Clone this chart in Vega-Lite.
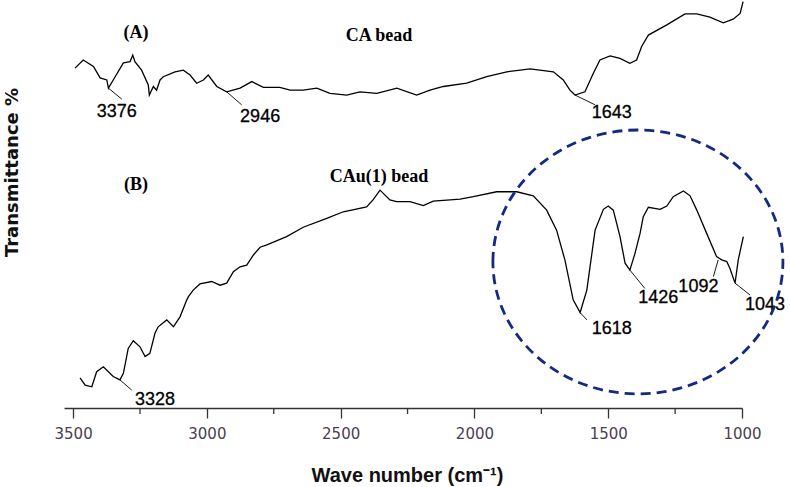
{
  "$schema": "https://vega.github.io/schema/vega-lite/v6.json",
  "width": 678,
  "height": 408,
  "autosize": "none",
  "padding": {"left": 64, "top": 0, "right": 48, "bottom": 79},
  "background": "white",
  "config": {"view": {"stroke": null}},
  "datasets": {
    "spectra": [
      {"wn": 3493, "t": 83.3, "s": "A"}, {"wn": 3462, "t": 85.3, "s": "A"}, {"wn": 3424, "t": 83.7, "s": "A"}, {"wn": 3399, "t": 80.9, "s": "A"},
      {"wn": 3374, "t": 80.4, "s": "A"}, {"wn": 3368, "t": 78.4, "s": "A"}, {"wn": 3350, "t": 80.4, "s": "A"}, {"wn": 3312, "t": 84.6, "s": "A"},
      {"wn": 3287, "t": 84.9, "s": "A"}, {"wn": 3277, "t": 86.5, "s": "A"}, {"wn": 3269, "t": 84.9, "s": "A"}, {"wn": 3244, "t": 82.8, "s": "A"},
      {"wn": 3219, "t": 79.2, "s": "A"}, {"wn": 3215, "t": 76.7, "s": "A"}, {"wn": 3200, "t": 78.8, "s": "A"}, {"wn": 3188, "t": 77.9, "s": "A"},
      {"wn": 3175, "t": 80.4, "s": "A"}, {"wn": 3163, "t": 81.2, "s": "A"}, {"wn": 3119, "t": 82.4, "s": "A"}, {"wn": 3088, "t": 82.8, "s": "A"},
      {"wn": 3063, "t": 81.6, "s": "A"}, {"wn": 3038, "t": 79.6, "s": "A"}, {"wn": 3013, "t": 80.4, "s": "A"}, {"wn": 2995, "t": 81.6, "s": "A"},
      {"wn": 2963, "t": 78.8, "s": "A"}, {"wn": 2926, "t": 77.5, "s": "A"}, {"wn": 2876, "t": 78.4, "s": "A"}, {"wn": 2832, "t": 80.0, "s": "A"},
      {"wn": 2789, "t": 78.6, "s": "A"}, {"wn": 2727, "t": 78.6, "s": "A"}, {"wn": 2689, "t": 77.9, "s": "A"}, {"wn": 2640, "t": 77.9, "s": "A"},
      {"wn": 2589, "t": 78.4, "s": "A"}, {"wn": 2540, "t": 77.1, "s": "A"}, {"wn": 2477, "t": 76.7, "s": "A"}, {"wn": 2428, "t": 77.5, "s": "A"},
      {"wn": 2365, "t": 77.1, "s": "A"}, {"wn": 2290, "t": 78.4, "s": "A"}, {"wn": 2216, "t": 76.7, "s": "A"}, {"wn": 2166, "t": 77.9, "s": "A"},
      {"wn": 2116, "t": 78.8, "s": "A"}, {"wn": 2029, "t": 79.6, "s": "A"}, {"wn": 1954, "t": 81.2, "s": "A"}, {"wn": 1879, "t": 82.4, "s": "A"},
      {"wn": 1792, "t": 83.1, "s": "A"}, {"wn": 1705, "t": 82.4, "s": "A"}, {"wn": 1668, "t": 80.4, "s": "A"}, {"wn": 1643, "t": 77.9, "s": "A"},
      {"wn": 1624, "t": 76.7, "s": "A"}, {"wn": 1587, "t": 77.5, "s": "A"}, {"wn": 1556, "t": 82.0, "s": "A"}, {"wn": 1531, "t": 85.3, "s": "A"},
      {"wn": 1493, "t": 86.3, "s": "A"}, {"wn": 1456, "t": 85.7, "s": "A"}, {"wn": 1419, "t": 84.5, "s": "A"}, {"wn": 1394, "t": 85.3, "s": "A"},
      {"wn": 1375, "t": 88.6, "s": "A"}, {"wn": 1350, "t": 91.4, "s": "A"}, {"wn": 1281, "t": 93.9, "s": "A"}, {"wn": 1213, "t": 96.6, "s": "A"},
      {"wn": 1169, "t": 96.6, "s": "A"}, {"wn": 1120, "t": 95.8, "s": "A"}, {"wn": 1070, "t": 94.4, "s": "A"}, {"wn": 1033, "t": 95.3, "s": "A"},
      {"wn": 1007, "t": 96.7, "s": "A"}, {"wn": 996, "t": 99.6, "s": "A"},

      {"wn": 3474, "t": 7.4, "s": "B"}, {"wn": 3455, "t": 5.6, "s": "B"}, {"wn": 3430, "t": 5.2, "s": "B"}, {"wn": 3412, "t": 8.9, "s": "B"},
      {"wn": 3387, "t": 10.1, "s": "B"}, {"wn": 3350, "t": 7.7, "s": "B"}, {"wn": 3325, "t": 6.9, "s": "B"}, {"wn": 3312, "t": 8.5, "s": "B"},
      {"wn": 3294, "t": 14.6, "s": "B"}, {"wn": 3275, "t": 16.5, "s": "B"}, {"wn": 3250, "t": 15.0, "s": "B"}, {"wn": 3231, "t": 12.6, "s": "B"},
      {"wn": 3213, "t": 13.4, "s": "B"}, {"wn": 3194, "t": 18.3, "s": "B"}, {"wn": 3182, "t": 19.9, "s": "B"}, {"wn": 3150, "t": 21.6, "s": "B"},
      {"wn": 3125, "t": 19.9, "s": "B"}, {"wn": 3100, "t": 22.4, "s": "B"}, {"wn": 3075, "t": 26.5, "s": "B"}, {"wn": 3069, "t": 27.3, "s": "B"},
      {"wn": 3051, "t": 28.9, "s": "B"}, {"wn": 3026, "t": 30.4, "s": "B"}, {"wn": 2982, "t": 31.0, "s": "B"}, {"wn": 2951, "t": 30.1, "s": "B"},
      {"wn": 2926, "t": 30.6, "s": "B"}, {"wn": 2901, "t": 33.4, "s": "B"}, {"wn": 2876, "t": 34.6, "s": "B"}, {"wn": 2851, "t": 35.0, "s": "B"},
      {"wn": 2826, "t": 37.5, "s": "B"}, {"wn": 2801, "t": 39.4, "s": "B"}, {"wn": 2776, "t": 40.0, "s": "B"}, {"wn": 2702, "t": 42.0, "s": "B"},
      {"wn": 2640, "t": 44.3, "s": "B"}, {"wn": 2552, "t": 46.5, "s": "B"}, {"wn": 2490, "t": 48.1, "s": "B"}, {"wn": 2403, "t": 49.3, "s": "B"},
      {"wn": 2379, "t": 51.0, "s": "B"}, {"wn": 2353, "t": 53.4, "s": "B"}, {"wn": 2316, "t": 51.0, "s": "B"}, {"wn": 2291, "t": 50.6, "s": "B"},
      {"wn": 2241, "t": 50.6, "s": "B"}, {"wn": 2191, "t": 49.6, "s": "B"}, {"wn": 2154, "t": 50.7, "s": "B"}, {"wn": 2091, "t": 51.0, "s": "B"},
      {"wn": 2054, "t": 51.2, "s": "B"}, {"wn": 2004, "t": 51.8, "s": "B"}, {"wn": 1917, "t": 53.0, "s": "B"}, {"wn": 1842, "t": 53.0, "s": "B"},
      {"wn": 1780, "t": 52.0, "s": "B"}, {"wn": 1730, "t": 48.5, "s": "B"}, {"wn": 1693, "t": 43.6, "s": "B"}, {"wn": 1662, "t": 36.3, "s": "B"},
      {"wn": 1631, "t": 26.5, "s": "B"}, {"wn": 1605, "t": 23.4, "s": "B"}, {"wn": 1580, "t": 28.9, "s": "B"}, {"wn": 1549, "t": 43.6, "s": "B"},
      {"wn": 1518, "t": 48.7, "s": "B"}, {"wn": 1500, "t": 49.5, "s": "B"}, {"wn": 1481, "t": 48.5, "s": "B"}, {"wn": 1456, "t": 42.0, "s": "B"},
      {"wn": 1437, "t": 35.5, "s": "B"}, {"wn": 1419, "t": 33.8, "s": "B"}, {"wn": 1400, "t": 37.9, "s": "B"}, {"wn": 1381, "t": 42.8, "s": "B"},
      {"wn": 1369, "t": 46.9, "s": "B"}, {"wn": 1350, "t": 49.2, "s": "B"}, {"wn": 1306, "t": 48.7, "s": "B"}, {"wn": 1281, "t": 49.5, "s": "B"},
      {"wn": 1257, "t": 51.8, "s": "B"}, {"wn": 1219, "t": 53.2, "s": "B"}, {"wn": 1194, "t": 52.0, "s": "B"}, {"wn": 1169, "t": 48.5, "s": "B"},
      {"wn": 1132, "t": 42.8, "s": "B"}, {"wn": 1095, "t": 37.1, "s": "B"}, {"wn": 1076, "t": 36.3, "s": "B"}, {"wn": 1057, "t": 35.9, "s": "B"},
      {"wn": 1045, "t": 34.2, "s": "B"}, {"wn": 1026, "t": 30.6, "s": "B"}, {"wn": 1014, "t": 36.3, "s": "B"}, {"wn": 995, "t": 42.0, "s": "B"}
    ],
    "leaders": [
      {"x1": 3368, "x2": 3318, "y1": 78.4, "y2": 75.7},
      {"x1": 2926, "x2": 2870, "y1": 77.5, "y2": 74.3},
      {"x1": 1624, "x2": 1549, "y1": 76.7, "y2": 74.3},
      {"x1": 3325, "x2": 3281, "y1": 6.9, "y2": 4.4},
      {"x1": 1605, "x2": 1580, "y1": 23.4, "y2": 21.6},
      {"x1": 1419, "x2": 1363, "y1": 33.8, "y2": 29.3},
      {"x1": 1089, "x2": 1107, "y1": 36.3, "y2": 32.2},
      {"x1": 1026, "x2": 970, "y1": 30.6, "y2": 27.7}
    ],
    "peaks": [
      {"x": 3337, "y": 72.6, "label": "3376"},
      {"x": 2801, "y": 71.4, "label": "2946"},
      {"x": 1487, "y": 72.2, "label": "1643"},
      {"x": 3194, "y": 2.0, "label": "3328"},
      {"x": 1487, "y": 19.3, "label": "1618"},
      {"x": 1313, "y": 26.9, "label": "1426"},
      {"x": 1163, "y": 29.7, "label": "1092"},
      {"x": 914, "y": 25.2, "label": "1043"}
    ],
    "titles": [
      {"x": 3265, "y": 91.9, "label": "(A)"},
      {"x": 2357, "y": 91.2, "label": "CA bead"},
      {"x": 3265, "y": 54.7, "label": "(B)"},
      {"x": 2357, "y": 56.7, "label": "CAu(1) bead"}
    ],
    "circle": [{"x": 1389, "y": 35.8}],
    "minor": [
      {"x": 3250, "y1": 0, "y2": -1.47},
      {"x": 2750, "y1": 0, "y2": -1.47},
      {"x": 2250, "y1": 0, "y2": -1.47},
      {"x": 1750, "y1": 0, "y2": -1.47},
      {"x": 1250, "y1": 0, "y2": -1.47}
    ]
  },
  "layer": [
    {
      "data": {"name": "spectra"},
      "mark": {"type": "line", "color": "#000000", "strokeWidth": 1.3},
      "encoding": {
        "x": {
          "field": "wn", "type": "quantitative",
          "scale": {"domain": [3534, 1000], "nice": false, "zero": false},
          "axis": {
            "values": [3500, 3000, 2500, 2000, 1500, 1000],
            "format": "d",
            "grid": false,
            "domainColor": "#333333", "domainWidth": 1.3,
            "tickColor": "#333333", "tickSize": 10, "tickWidth": 1.3,
            "labelFont": "DejaVu Sans", "labelFontSize": 15, "labelColor": "#4a4050",
            "labelPadding": 8, "labelFlush": false,
            "title": "Wave number (cm\u207b\u00b9)",
            "titleFont": "Liberation Sans", "titleFontSize": 20, "titleFontWeight": "bold", "titleColor": "#111111",
            "titleX": 343, "titleY": 73, "titleBaseline": "alphabetic", "titleAlign": "center"
          }
        },
        "y": {
          "field": "t", "type": "quantitative",
          "scale": {"domain": [0, 100], "nice": false, "zero": false},
          "axis": {
            "domain": false, "ticks": false, "labels": false, "grid": false,
            "title": "Transmittance %",
            "titleFont": "DejaVu Sans", "titleFontSize": 18, "titleFontWeight": "bold", "titleColor": "#111111",
            "titleX": -52, "titleY": 172, "titleAngle": -90, "titleBaseline": "middle", "titleAlign": "center"
          }
        },
        "detail": {"field": "s", "type": "nominal"}
      }
    },
    {
      "data": {"name": "minor"},
      "mark": {"type": "rule", "color": "#333333", "strokeWidth": 1.3},
      "encoding": {
        "x": {"field": "x", "type": "quantitative"},
        "y": {"field": "y1", "type": "quantitative"},
        "y2": {"field": "y2"}
      }
    },
    {
      "data": {"name": "leaders"},
      "mark": {"type": "rule", "color": "#000000", "strokeWidth": 0.9},
      "encoding": {
        "x": {"field": "x1", "type": "quantitative"},
        "x2": {"field": "x2"},
        "y": {"field": "y1", "type": "quantitative"},
        "y2": {"field": "y2"}
      }
    },
    {
      "data": {"name": "peaks"},
      "mark": {"type": "text", "font": "Liberation Sans", "fontSize": 18, "color": "#000000", "align": "center", "baseline": "middle", "stroke": "#000000", "strokeWidth": 0.3},
      "encoding": {
        "x": {"field": "x", "type": "quantitative"},
        "y": {"field": "y", "type": "quantitative"},
        "text": {"field": "label"}
      }
    },
    {
      "data": {"name": "titles"},
      "mark": {"type": "text", "font": "Liberation Serif", "fontSize": 18, "fontWeight": "bold", "color": "#000000", "align": "center", "baseline": "middle"},
      "encoding": {
        "x": {"field": "x", "type": "quantitative"},
        "y": {"field": "y", "type": "quantitative"},
        "text": {"field": "label"}
      }
    },
    {
      "data": {"name": "circle"},
      "mark": {
        "type": "point",
        "shape": "M-1,0A1,0.91,0,1,1,1,0A1,0.91,0,1,1,-1,0Z",
        "size": 84100,
        "filled": false,
        "fill": null,
        "opacity": 1,
        "stroke": "#132a82",
        "strokeWidth": 2.8,
        "strokeDash": [10, 6]
      },
      "encoding": {
        "x": {"field": "x", "type": "quantitative"},
        "y": {"field": "y", "type": "quantitative"}
      }
    }
  ]
}
